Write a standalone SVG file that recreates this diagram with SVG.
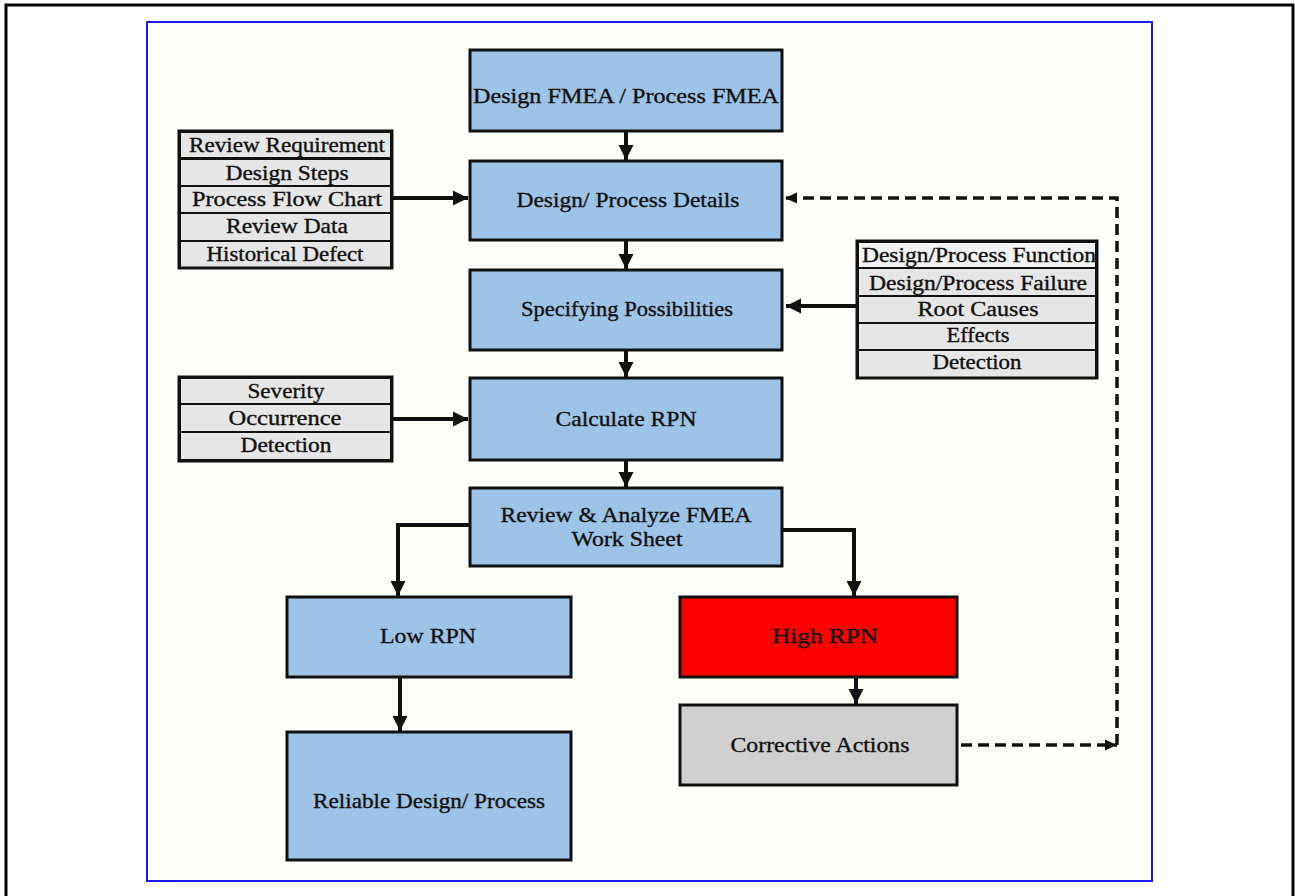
<svg xmlns="http://www.w3.org/2000/svg" width="1295" height="896" viewBox="0 0 1295 896">
<style>
text{font-family:"Liberation Serif","Times New Roman",serif;fill:#111;text-anchor:middle;stroke:#111;stroke-width:0.35}
.m{font-size:22px}
.t{font-size:20px}
.box{stroke:#111;stroke-width:3}
.blue{fill:#9dc3e6}
.row{fill:#e6e6e6;stroke:#111;stroke-width:2}
.tbl{fill:none;stroke:#111;stroke-width:3}
.c{fill:none;stroke:#111;stroke-width:4}
.d{fill:none;stroke:#111;stroke-width:3.5;stroke-dasharray:11 6}
</style>
<defs>
<marker id="ah" markerUnits="userSpaceOnUse" markerWidth="18" markerHeight="18" viewBox="0 0 18 18" refX="15" refY="9" orient="auto"><path d="M0,1.5 L15,9 L0,16.5 Z" fill="#111"/></marker>
<marker id="ahs" markerUnits="userSpaceOnUse" markerWidth="14" markerHeight="14" viewBox="0 0 14 14" refX="12" refY="7" orient="auto"><path d="M0,1.5 L12,7 L0,12.5 Z" fill="#111"/></marker>
</defs>
<rect x="0" y="0" width="1295" height="896" fill="#fff"/>
<rect x="6" y="5" width="1287" height="895" fill="#fff" stroke="#000" stroke-width="3"/>
<rect x="147" y="22" width="1005" height="859" fill="#fefefb" stroke="#1a1aee" stroke-width="2"/>

<g id="connectors">
<line class="c" x1="626" y1="131" x2="626" y2="160" marker-end="url(#ah)"/>
<line class="c" x1="626" y1="240" x2="626" y2="269" marker-end="url(#ah)"/>
<line class="c" x1="626" y1="350" x2="626" y2="377" marker-end="url(#ah)"/>
<line class="c" x1="626" y1="460" x2="626" y2="487" marker-end="url(#ah)"/>
<line class="c" x1="392" y1="198" x2="468" y2="198" marker-end="url(#ah)"/>
<line class="c" x1="857" y1="306" x2="786" y2="306" marker-end="url(#ah)"/>
<line class="c" x1="392" y1="419" x2="468" y2="419" marker-end="url(#ah)"/>
<polyline class="c" points="470,525 398,525 398,596" marker-end="url(#ah)"/>
<polyline class="c" points="782,530 854,530 854,596" marker-end="url(#ah)"/>
<line class="c" x1="400" y1="677" x2="400" y2="731" marker-end="url(#ah)"/>
<line class="c" x1="856" y1="677" x2="856" y2="704" marker-end="url(#ah)"/>
<line class="d" x1="961" y1="745" x2="1117" y2="745" marker-end="url(#ahs)"/>
<polyline class="d" points="1117,745 1117,198 785,198" marker-end="url(#ahs)"/>
</g>

<g id="n1"><rect class="box blue" x="470" y="50" width="312" height="81"/><text class="m" x="626" y="103" textLength="306" lengthAdjust="spacingAndGlyphs">Design FMEA / Process FMEA</text></g>
<g id="n2"><rect class="box blue" x="470" y="161" width="312" height="79"/><text class="m" x="628" y="207" textLength="223" lengthAdjust="spacingAndGlyphs">Design/ Process Details</text></g>
<g id="n3"><rect class="box blue" x="470" y="270" width="312" height="80"/><text class="m" x="627" y="316" textLength="212" lengthAdjust="spacingAndGlyphs">Specifying Possibilities</text></g>
<g id="n4"><rect class="box blue" x="470" y="378" width="312" height="82"/><text class="m" x="626" y="426" textLength="141" lengthAdjust="spacingAndGlyphs">Calculate RPN</text></g>
<g id="n5"><rect class="box blue" x="470" y="488" width="312" height="78"/><text class="m" x="626" y="522" textLength="251" lengthAdjust="spacingAndGlyphs">Review &amp; Analyze FMEA</text><text class="m" x="627" y="546" textLength="111" lengthAdjust="spacingAndGlyphs">Work Sheet</text></g>
<g id="n6"><rect class="box blue" x="287" y="597" width="284" height="80"/><text class="m" x="428" y="643" textLength="96" lengthAdjust="spacingAndGlyphs">Low RPN</text></g>
<g id="n7"><rect class="box blue" x="287" y="732" width="284" height="128"/><text class="m" x="429" y="808" textLength="232" lengthAdjust="spacingAndGlyphs">Reliable Design/ Process</text></g>
<g id="n8"><rect class="box" fill="#ff0000" x="680" y="597" width="277" height="80"/><text class="m" x="825" y="643" textLength="106" lengthAdjust="spacingAndGlyphs">High RPN</text></g>
<g id="n9"><rect class="box" fill="#d0d0d0" x="680" y="705" width="277" height="80"/><text class="m" x="820" y="752" textLength="179" lengthAdjust="spacingAndGlyphs">Corrective Actions</text></g>

<g id="t1">
<rect class="row" x="180" y="132" width="211" height="26"/>
<rect class="row" x="180" y="159" width="211" height="27"/>
<rect class="row" x="180" y="186" width="211" height="27"/>
<rect class="row" x="180" y="213" width="211" height="28"/>
<rect class="row" x="180" y="241" width="211" height="27"/>
<rect class="tbl" x="179" y="131" width="213" height="137"/>
<text class="t" x="287" y="152" textLength="196" lengthAdjust="spacingAndGlyphs">Review Requirement</text>
<text class="t" x="287" y="180" textLength="123" lengthAdjust="spacingAndGlyphs">Design Steps</text>
<text class="t" x="287" y="206" textLength="190" lengthAdjust="spacingAndGlyphs">Process Flow Chart</text>
<text class="t" x="287" y="233" textLength="122" lengthAdjust="spacingAndGlyphs">Review Data</text>
<text class="t" x="285" y="261" textLength="157" lengthAdjust="spacingAndGlyphs">Historical Defect</text>
</g>

<g id="t2">
<rect class="row" style="fill:#f3f3f3" x="858" y="242" width="238" height="26"/>
<rect class="row" x="858" y="268" width="238" height="28"/>
<rect class="row" x="858" y="296" width="238" height="27"/>
<rect class="row" x="858" y="323" width="238" height="27"/>
<rect class="row" x="858" y="350" width="238" height="28"/>
<rect class="tbl" x="857" y="241" width="240" height="137"/>
<text class="t" x="979" y="262" textLength="234" lengthAdjust="spacingAndGlyphs">Design/Process Function</text>
<text class="t" x="978" y="290" textLength="218" lengthAdjust="spacingAndGlyphs">Design/Process Failure</text>
<text class="t" x="978" y="316" textLength="121" lengthAdjust="spacingAndGlyphs">Root Causes</text>
<text class="t" x="978" y="342" textLength="63" lengthAdjust="spacingAndGlyphs">Effects</text>
<text class="t" x="977" y="369" textLength="89" lengthAdjust="spacingAndGlyphs">Detection</text>
</g>

<g id="t3">
<rect class="row" x="180" y="378" width="211" height="26"/>
<rect class="row" x="180" y="404" width="211" height="28"/>
<rect class="row" x="180" y="432" width="211" height="28"/>
<rect class="tbl" x="179" y="377" width="213" height="84"/>
<text class="t" x="286" y="398" textLength="77" lengthAdjust="spacingAndGlyphs">Severity</text>
<text class="t" x="285" y="425" textLength="113" lengthAdjust="spacingAndGlyphs">Occurrence</text>
<text class="t" x="286" y="452" textLength="91" lengthAdjust="spacingAndGlyphs">Detection</text>
</g>
</svg>
